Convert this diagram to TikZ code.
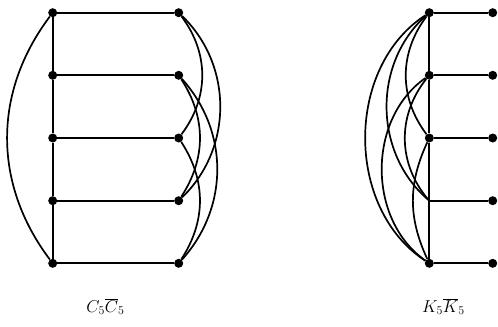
\documentclass[tikz,border=0pt]{standalone}
\begin{document}
\begin{tikzpicture}[x=1bp,y=-1bp,
  vtx/.style={circle,fill=black,inner sep=0pt,minimum size=9bp},
  edge/.style={line width=1.7bp},
  lab/.style={anchor=base,font=\LARGE,inner sep=0pt}]
\useasboundingbox (0,0) rectangle (498,326);
% left graph nodes
\foreach \i/\y in {1/12.7,2/75.3,3/138,4/200.7,5/263.3}{
  \node[vtx] (a\i) at (52.7,\y) {};
  \node[vtx] (b\i) at (178.7,\y) {};
  \node[vtx] (d\i) at (492.7,\y) {};
}
% right graph left column
\node[vtx] (c1) at (429.3,12.7) {};
\node[vtx] (c2) at (429.3,75.3) {};
\node[vtx] (c3) at (429.3,138) {};
\coordinate (c4) at (429.3,200.7);
\node[vtx] (c5) at (429.3,263.3) {};
% left graph: C5 and complement
\begin{scope}[edge]
\draw (a1) -- (a2) -- (a3) -- (a4) -- (a5);
\draw (a1) to[bend right=37] (a5);
\foreach \i in {1,...,5}{\draw (a\i) -- (b\i);}
\draw (b1) to[bend left=37] (b3);
\draw (b1) to[bend left=46] (b4);
\draw (b2) to[bend left=33] (b4);
\draw (b2) to[bend left=42] (b5);
\draw (b3) to[bend left=33] (b5);
% right graph: K5 and empty complement
\draw (c1) -- (c2) -- (c3) -- (c4) -- (c5);
\foreach \i in {1,...,5}{\draw (c\i) -- (d\i);}
\draw (c1) to[bend right=37] (c3);
\draw (c1) to[bend right=49] (c4);
\draw (c1) to[bend right=57] (c5);
\draw (c2) to[bend right=40] (c4);
\draw (c2) to[bend right=55] (c5);
\draw (c3) to[bend right=25] (c5);
\end{scope}
% labels
\node[lab] (la) at (105.5,312) {$C_5\overline{C}_5$};
\node[lab] (lb) at (443.5,312) {$K_5\overline{K}_5$};
\end{tikzpicture}
\end{document}
